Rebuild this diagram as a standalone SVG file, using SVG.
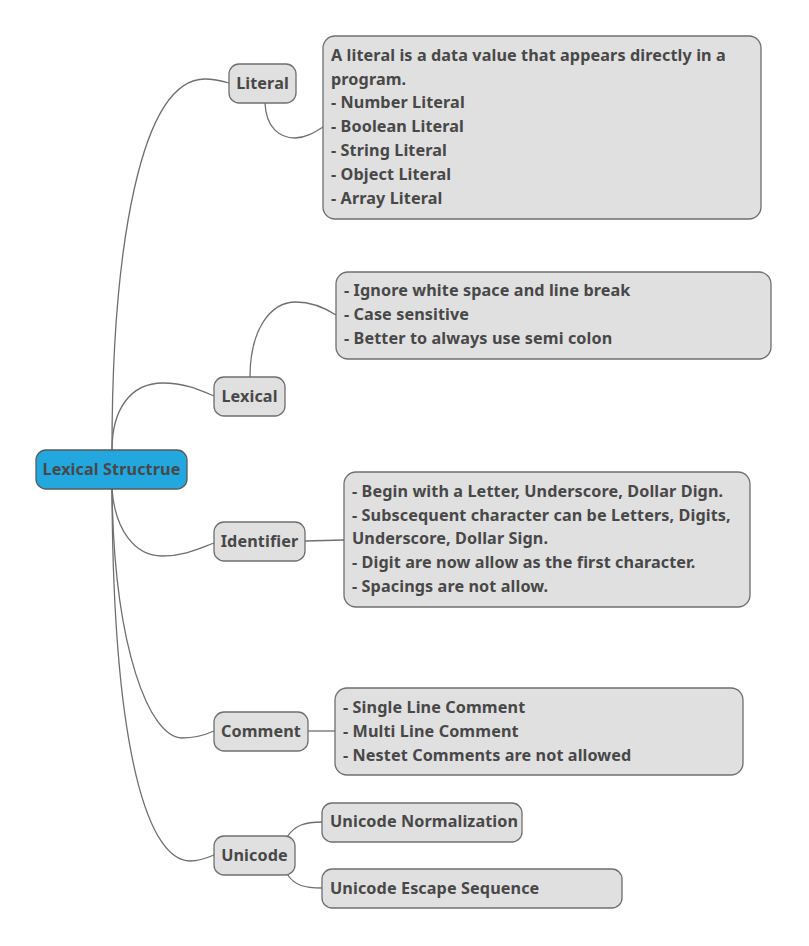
<svg xmlns="http://www.w3.org/2000/svg" width="809" height="946" viewBox="0 0 809 946">
  <style>
    .box { fill: #e0e0e0; stroke: #6f6f6f; stroke-width: 1.3; }
    .root { fill: #22a8de; stroke: #5a5a5a; stroke-width: 1.3; }
    .t { font-family: "Noto Sans", "Open Sans", sans-serif; font-weight: bold; font-size: 16.2px; letter-spacing: 0.1px; fill: #484848; }
    .c { text-anchor: middle; }
    .link { fill: none; stroke: #6f6f6f; stroke-width: 1.3; }
  </style>
  <rect width="809" height="946" fill="#ffffff"/>

  <g id="connectors">
    <path class="link" d="M112 450 C112 250 140 79 205 79 C215 79 222 81 229 83"/>
    <path class="link" d="M112 450 C112 410 130 383 163 383 C185 383 200 390 214 396"/>
    <path class="link" d="M112 489 C115 530 135 556 162 556 C185 556 200 548 214 543"/>
    <path class="link" d="M112 489 C114 650 150 738 182 738 C196 738 205 735 214 731"/>
    <path class="link" d="M112 489 C113 760 150 861 190 861 C200 861 207 858 214 855"/>
    <path class="link" d="M265 103 C266 128 280 138 295 138 C306 138 315 132 323 127"/>
    <path class="link" d="M250 377 C250 330 270 302 296 302 C312 302 325 308 336 315"/>
    <path class="link" d="M305 541 L344 540"/>
    <path class="link" d="M308 731 L335 731"/>
    <path class="link" d="M287 837 C295 825 305 822 322 822"/>
    <path class="link" d="M287 874 C295 886 305 888 322 888"/>
  </g>

  <g id="root">
    <rect class="root" x="36" y="450" width="151" height="39" rx="10"/>
    <text class="t c" x="111.5" y="475">Lexical Structrue</text>
  </g>

  <g id="literal">
    <rect class="box" x="229" y="64" width="67" height="39" rx="10"/>
    <text class="t c" x="262.5" y="89">Literal</text>
  </g>
  <g id="literal-note">
    <rect class="box" x="323" y="36" width="438" height="183" rx="12"/>
    <text class="t" x="331" y="61">A literal is a data value that appears directly in a</text>
    <text class="t" x="331" y="85">program.</text>
    <text class="t" x="331" y="108">- Number Literal</text>
    <text class="t" x="331" y="132">- Boolean Literal</text>
    <text class="t" x="331" y="156">- String Literal</text>
    <text class="t" x="331" y="180">- Object Literal</text>
    <text class="t" x="331" y="204">- Array Literal</text>
  </g>

  <g id="lexical">
    <rect class="box" x="214" y="377" width="71" height="39" rx="10"/>
    <text class="t c" x="249.5" y="402">Lexical</text>
  </g>
  <g id="lexical-note">
    <rect class="box" x="336" y="272" width="435" height="87" rx="12"/>
    <text class="t" x="344" y="296">- Ignore white space and line break</text>
    <text class="t" x="344" y="320">- Case sensitive</text>
    <text class="t" x="344" y="344">- Better to always use semi colon</text>
  </g>

  <g id="identifier">
    <rect class="box" x="214" y="522" width="91" height="39" rx="10"/>
    <text class="t c" x="259.5" y="547">Identifier</text>
  </g>
  <g id="identifier-note">
    <rect class="box" x="344" y="472" width="406" height="135" rx="12"/>
    <text class="t" x="352" y="497">- Begin with a Letter, Underscore, Dollar Dign.</text>
    <text class="t" x="352" y="521">- Subscequent character can be Letters, Digits,</text>
    <text class="t" x="352" y="544">Underscore, Dollar Sign.</text>
    <text class="t" x="352" y="568">- Digit are now allow as the first character.</text>
    <text class="t" x="352" y="592">- Spacings are not allow.</text>
  </g>

  <g id="comment">
    <rect class="box" x="214" y="712" width="94" height="39" rx="10"/>
    <text class="t c" x="261" y="737">Comment</text>
  </g>
  <g id="comment-note">
    <rect class="box" x="335" y="688" width="408" height="87" rx="12"/>
    <text class="t" x="343" y="713">- Single Line Comment</text>
    <text class="t" x="343" y="737">- Multi Line Comment</text>
    <text class="t" x="343" y="761">- Nestet Comments are not allowed</text>
  </g>

  <g id="unicode">
    <rect class="box" x="214" y="836" width="81" height="39" rx="10"/>
    <text class="t c" x="254.5" y="861">Unicode</text>
  </g>
  <g id="unicode-normalization">
    <rect class="box" x="322" y="803" width="200" height="39" rx="10"/>
    <text class="t" x="330" y="827">Unicode Normalization</text>
  </g>
  <g id="unicode-escape">
    <rect class="box" x="322" y="869" width="300" height="39" rx="10"/>
    <text class="t" x="330" y="894">Unicode Escape Sequence</text>
  </g>
</svg>
